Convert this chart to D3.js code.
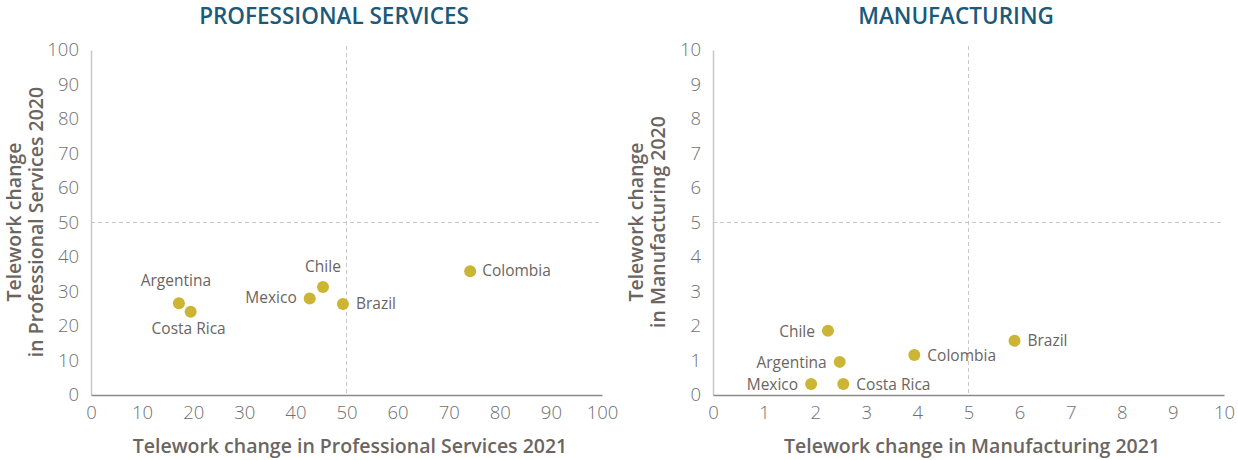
<!DOCTYPE html>
<html>
<head>
<meta charset="utf-8">
<script src="https://cdn.jsdelivr.net/npm/d3@7"></script>
<style>
  body { margin: 0; background: #fff; }
  svg { display: block; font-family: "Open Sans", sans-serif; }
</style>
</head>
<body>
<div id="chart"></div>
<script>
// data
const countries = ['Argentina', 'Costa Rica', 'Mexico', 'Chile', 'Brazil', 'Colombia']
const proServices2021 = [17.2, 19.5, 42.8, 45.4, 49.3, 74.2]
const proServices2020 = [26.6, 24.1, 28.0, 31.3, 26.4, 35.9]
const manufacturing2021 = [2.48, 2.55, 1.92, 2.25, 5.9, 3.94]
const manufacturing2020 = [0.96, 0.32, 0.32, 1.86, 1.57, 1.16]
const proTicks = [0, 10, 20, 30, 40, 50, 60, 70, 80, 90, 100]
const manTicks = [0, 1, 2, 3, 4, 5, 6, 7, 8, 9, 10]

// label placement per country: [anchor, dx, dy]
const proLabelPos = {
  Argentina: ['middle', -3, -17],
  'Costa Rica': ['middle', -2, 22],
  Mexico: ['end', -13, 5],
  Chile: ['middle', 0, -15],
  Brazil: ['start', 13, 5],
  Colombia: ['start', 12, 5],
}
const manLabelPos = {
  Argentina: ['end', -13, 6],
  'Costa Rica': ['start', 13, 6],
  Mexico: ['end', -13, 6],
  Chile: ['end', -13, 6],
  Brazil: ['start', 13, 5],
  Colombia: ['start', 13, 6],
}

const width = 1238
const height = 460
const dotColor = '#ccb435'
const textColor = '#6b6561'

const svg = d3
  .select('#chart')
  .append('svg')
  .attr('width', width)
  .attr('height', height)

function drawPanel({ left, title, xs, ys, ticks, max, xTitle, yTitle, labelPos }) {
  const x = d3.scaleLinear().domain([0, max]).range([left, left + 511])
  const y = d3.scaleLinear().domain([0, max]).range([395, 50])
  const g = svg.append('g')

  // title
  g.append('text')
    .attr('x', left + 243)
    .attr('y', 24)
    .attr('text-anchor', 'middle')
    .attr('fill', '#1b5a7a')
    .attr('font-size', 22.5)
    .attr('font-weight', 600)
    .text(title)

  // reference lines
  g.append('line')
    .attr('x1', x(max / 2))
    .attr('x2', x(max / 2))
    .attr('y1', y(max) - 4)
    .attr('y2', y(0))
    .attr('stroke', '#c8c8c8')
    .attr('stroke-dasharray', '4,3')
  g.append('line')
    .attr('x1', x(0))
    .attr('x2', x(max))
    .attr('y1', y(max / 2))
    .attr('y2', y(max / 2))
    .attr('stroke', '#c8c8c8')
    .attr('stroke-dasharray', '4,3')

  // axes
  const yAxis = g.append('g')
    .attr('transform', `translate(${x(0)},0)`)
    .call(d3.axisLeft(y).tickValues(ticks).tickSize(0).tickPadding(12))
  yAxis.select('.domain').attr('stroke', '#c8c8c8').attr('stroke-width', 1.5)
  yAxis.selectAll('text').attr('font-size', 18.5).attr('fill', '#707070').attr('font-weight', 300)
    .attr('font-family', '"Open Sans", sans-serif')

  const xAxis = g.append('g')
    .attr('transform', `translate(0,${y(0)})`)
    .call(d3.axisBottom(x).tickValues(ticks).tickSize(0).tickPadding(11))
  xAxis.select('.domain').attr('stroke', '#8a8a8a').attr('stroke-width', 1.5)
  xAxis.selectAll('text').attr('font-size', 18.5).attr('fill', '#707070').attr('font-weight', 300)
    .attr('font-family', '"Open Sans", sans-serif')

  // axis titles
  g.append('text')
    .attr('x', left + 259)
    .attr('y', 453)
    .attr('text-anchor', 'middle')
    .attr('fill', textColor)
    .attr('font-size', 19.5)
    .attr('font-weight', 600)
    .text(xTitle)

  const yt = g.append('text')
    .attr('transform', `translate(${left - 70},${222}) rotate(-90)`)
    .attr('text-anchor', 'middle')
    .attr('fill', textColor)
    .attr('font-size', 19.5)
    .attr('font-weight', 600)
  yt.append('tspan').attr('x', 0).attr('dy', 0).text(yTitle[0])
  yt.append('tspan').attr('x', 0).attr('dy', 22).text(yTitle[1])

  // points
  const data = countries.map((c, i) => ({ name: c, x: xs[i], y: ys[i] }))
  g.selectAll('circle')
    .data(data)
    .join('circle')
    .attr('cx', (d) => x(d.x))
    .attr('cy', (d) => y(d.y))
    .attr('r', 6)
    .attr('fill', dotColor)

  g.selectAll('.lbl')
    .data(data)
    .join('text')
    .attr('class', 'lbl')
    .attr('x', (d) => x(d.x) + labelPos[d.name][1])
    .attr('y', (d) => y(d.y) + labelPos[d.name][2])
    .attr('text-anchor', (d) => labelPos[d.name][0])
    .attr('fill', textColor)
    .attr('font-size', 15.5)
    .text((d) => d.name)
}

drawPanel({
  left: 91,
  title: 'PROFESSIONAL SERVICES',
  xs: proServices2021,
  ys: proServices2020,
  ticks: proTicks,
  max: 100,
  xTitle: 'Telework change in Professional Services 2021',
  yTitle: ['Telework change', 'in Professional Services 2020'],
  labelPos: proLabelPos,
})

drawPanel({
  left: 713,
  title: 'MANUFACTURING',
  xs: manufacturing2021,
  ys: manufacturing2020,
  ticks: manTicks,
  max: 10,
  xTitle: 'Telework change in Manufacturing 2021',
  yTitle: ['Telework change', 'in Manufacturing 2020'],
  labelPos: manLabelPos,
})
</script>
</body>
</html>
